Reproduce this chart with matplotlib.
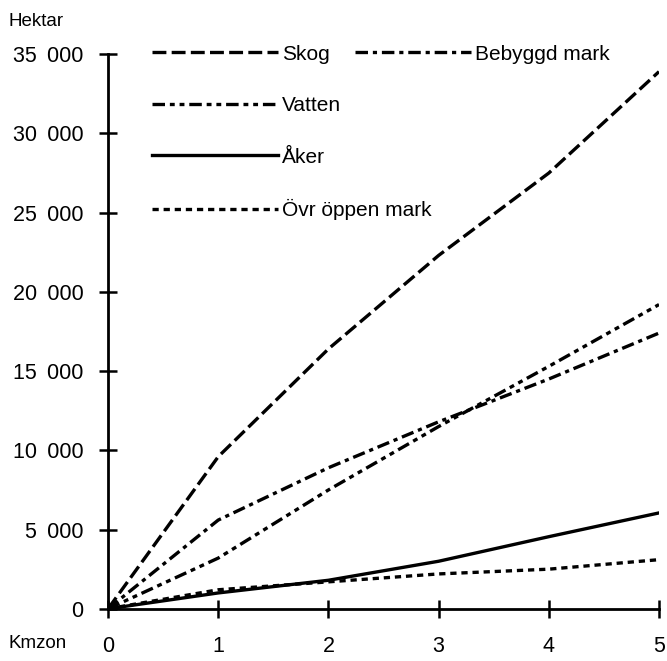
import matplotlib
matplotlib.use("Agg")
import matplotlib.pyplot as plt
from matplotlib.ticker import FuncFormatter

plt.rcParams["font.family"] = ["Liberation Sans", "DejaVu Sans"]
plt.rcParams["lines.scale_dashes"] = False

kmzon = [0, 1, 2, 3, 4, 5]
skog = [0, 9600, 16400, 22300, 27500, 33900]
bebyggd = [0, 5600, 8900, 11800, 14500, 17400]
vatten = [0, 3200, 7500, 11500, 15300, 19200]
aker = [0, 1000, 1800, 3000, 4550, 6050]
ovr = [0, 1200, 1700, 2200, 2500, 3100]

y_ticks = [0, 5000, 10000, 15000, 20000, 25000, 30000, 35000]


def main() -> None:
    fig = plt.figure(figsize=(6.67, 6.61), dpi=100)
    ax = fig.add_axes([0.162, 0.079, 0.826, 0.839])

    lw = 2.4
    l_skog, = ax.plot(kmzon, skog, color="black", lw=lw, dashes=(10, 3.8), label="Skog")
    l_beb, = ax.plot(kmzon, bebyggd, color="black", lw=lw, dashes=(9, 3.5, 3, 3.5), label="Bebyggd mark")
    l_vat, = ax.plot(kmzon, vatten, color="black", lw=lw, dashes=(9, 3.5, 3.5, 3.5, 3.5, 3.5), label="Vatten")
    l_ake, = ax.plot(kmzon, aker, color="black", lw=lw, label="Åker")
    l_ovr, = ax.plot(kmzon, ovr, color="black", lw=lw, dashes=(4.5, 3.5), label="Övr öppen mark")

    ax.set_xlim(0, 5)
    ax.set_ylim(0, 35000)
    ax.set_xticks(kmzon)
    ax.set_yticks(y_ticks)
    ax.yaxis.set_major_formatter(FuncFormatter(lambda v, p: f"{int(v):,}".replace(",", " \u2009")))

    for side in ["top", "right"]:
        ax.spines[side].set_visible(False)
    for side in ["left", "bottom"]:
        ax.spines[side].set_linewidth(2.0)
    ax.tick_params(direction="inout", length=13, width=1.8, labelsize=15.5)
    ax.tick_params(axis="y", pad=11)
    ax.tick_params(axis="x", pad=13)

    fig.text(0.012, 0.968, "Hektar", fontsize=13.5, ha="left", va="center")
    fig.text(0.012, 0.027, "Kmzon", fontsize=13.5, ha="left", va="center")

    leg_kw = dict(frameon=False, fontsize=15, handlelength=6.05, handletextpad=0.2,
                  labelspacing=1.56, borderpad=0, borderaxespad=0, loc="upper left")
    leg1 = ax.legend(handles=[l_skog, l_vat, l_ake, l_ovr], bbox_to_anchor=(0.08, 1.017), **leg_kw)
    ax.add_artist(leg1)
    leg_kw["handlelength"] = 5.55
    ax.legend(handles=[l_beb], bbox_to_anchor=(0.448, 1.017), **leg_kw)

    fig.savefig("out.png", dpi=100)


if __name__ == "__main__":
    main()
